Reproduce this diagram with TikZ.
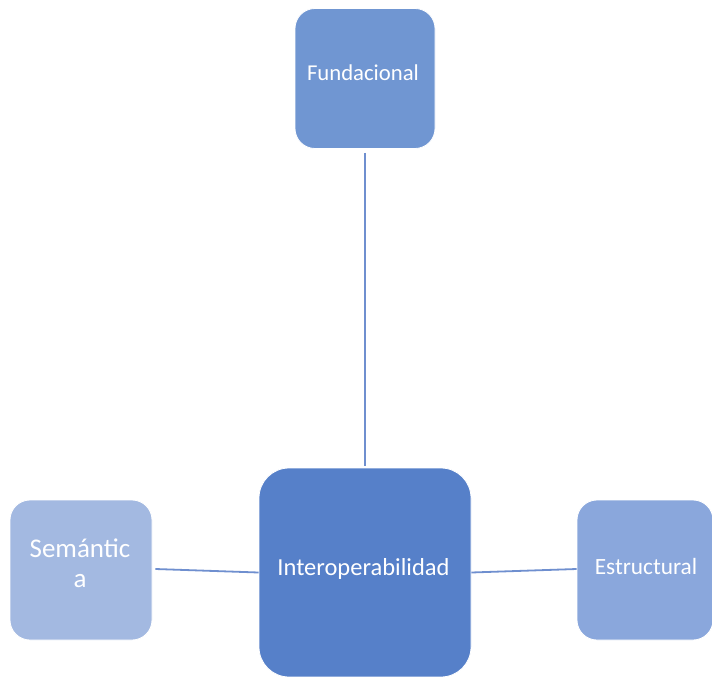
\documentclass[tikz,border=0pt]{standalone}
\usepackage{fontspec}
\setmainfont{Carlito}
\definecolor{cFund}{HTML}{7096D2}
\definecolor{cInter}{HTML}{5680C9}
\definecolor{cSem}{HTML}{A3B9E1}
\definecolor{cEst}{HTML}{8AA7DC}
\definecolor{cLine}{HTML}{6F8FCF}
\tikzset{
  boxbase/.style={rectangle, rounded corners=20pt, draw=white, line width=0.8pt, inner sep=0pt},
  boxtext/.style={text=white, inner sep=0pt, anchor=base, align=center},
  link/.style={draw=cLine, line width=1.8pt}
}
\begin{document}
\begin{tikzpicture}[x=1pt,y=-1pt]
\useasboundingbox[fill=white] (0,0) rectangle (712,677);
\node[boxbase, fill=cFund, minimum width=140pt, minimum height=140pt] (fund) at (365,78.5) {};
\node[boxbase, fill=cInter, rounded corners=30pt, minimum width=212pt, minimum height=209pt] (inter) at (365,572.5) {};
\node[boxbase, fill=cSem, minimum width=142pt, minimum height=140pt] (sem) at (81,570) {};
\node[boxbase, fill=cEst, minimum width=136pt, minimum height=140pt] (est) at (645,570) {};
\node[boxtext, font=\fontsize{22.7}{27}\selectfont] (tfund) at (363,81) {Fundacional};
\node[boxtext, font=\fontsize{24.5}{29}\selectfont] (tinter) at (363.5,575.5) {Interoperabilidad};
\node[boxtext, font=\fontsize{27}{29.5}\selectfont] (tsem) at (80,587) {Semántic\\a};
\node[boxtext, font=\fontsize{23.3}{28}\selectfont] (test) at (646,574) {Estructural};
\draw[link] ([yshift=-4pt]fund.south) -- ([yshift=2pt]inter.north);
\draw[link] ([xshift=3pt,yshift=1pt]sem.east) -- (inter.west);
\draw[link] (inter.east) -- ([yshift=1pt]est.west);
\end{tikzpicture}
\end{document}
